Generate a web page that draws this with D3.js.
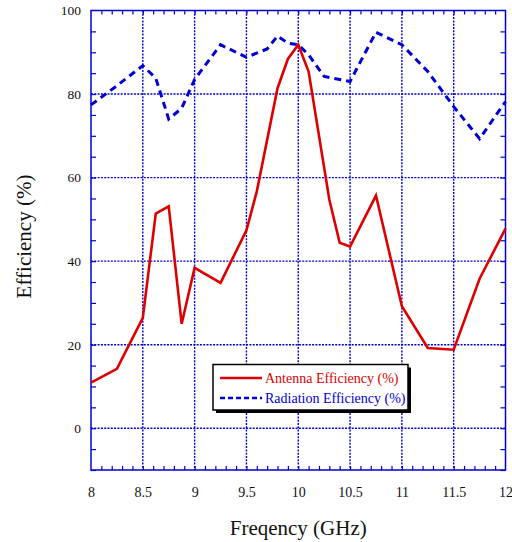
<!DOCTYPE html>
<html><head><meta charset="utf-8">
<script src="https://cdn.jsdelivr.net/npm/d3@7"></script>
<style>body{margin:0;background:#fff}svg{display:block}</style>
</head><body>
<script>
const antennaFreq = [8, 8.25, 8.5, 8.625, 8.75, 8.875, 9, 9.25, 9.5, 9.6, 9.8, 9.9, 10, 10.1, 10.3, 10.4, 10.5, 10.75, 11, 11.25, 11.5, 11.75, 12];
const antennaEff  = [10.9, 14.2, 26.4, 51.4, 53.1, 25, 38.4, 34.8, 47.4, 56.7, 81.4, 88.4, 91.8, 85.4, 54.7, 44.4, 43.5, 55.7, 29.2, 19.2, 18.8, 35.8, 47.8];
const radiationFreq = [8, 8.25, 8.5, 8.625, 8.75, 8.875, 9, 9.25, 9.5, 9.7, 9.8, 9.9, 10, 10.1, 10.25, 10.5, 10.75, 11, 11.25, 11.5, 11.75, 12];
const radiationEff  = [77.4, 82, 86.8, 83.8, 74, 76.6, 83.5, 91.8, 88.8, 90.8, 93.9, 92.2, 91.8, 89.4, 84.2, 83, 94.8, 91.8, 85.4, 77, 69.3, 78.2];
const xTicks = [8, 8.5, 9, 9.5, 10, 10.5, 11, 11.5, 12];
const yTicks = [0, 20, 40, 60, 80, 100];
const seriesNames = ["Antenna Efficiency (%)", "Radiation Efficiency (%)"];

const FONT = "'Times New Roman', 'Liberation Serif', 'DejaVu Serif', serif";
const W = 512, H = 542;
const L = 91, R = 505.5, T = 10.5, B = 470;
const blue = "#0000d0", red = "#dd0000";
const svg = d3.select("body").append("svg").attr("width", W).attr("height", H);
const x = d3.scaleLinear().domain([8, 12]).range([L, R]);
const y = d3.scaleLinear().domain([-10, 100]).range([B, T]);

// grid
const g = svg.append("g");
g.selectAll(".gx").data(xTicks.slice(1, -1)).join("line")
  .attr("x1", d => x(d)).attr("x2", d => x(d)).attr("y1", T).attr("y2", B)
  .attr("stroke", blue).attr("stroke-width", 1.4).attr("stroke-dasharray", "2,1.3");
g.selectAll(".gy").data(yTicks.slice(0, -1)).join("line")
  .attr("y1", d => y(d)).attr("y2", d => y(d)).attr("x1", L).attr("x2", R)
  .attr("stroke", blue).attr("stroke-width", 1.4).attr("stroke-dasharray", "2,1.3");

// minor/major ticks on all four sides
const xMinor = d3.range(81, 120).map(v => v / 10);
const yMinor = d3.range(-2, 20).map(v => v * 5);
const axB = d3.axisTop(x).tickValues(xMinor).tickSize(4).tickFormat("");
const axT = d3.axisBottom(x).tickValues(xMinor).tickSize(4).tickFormat("");
const axL = d3.axisRight(y).tickValues(yMinor).tickSize(5).tickFormat("");
const axR = d3.axisLeft(y).tickValues(yMinor).tickSize(5).tickFormat("");
[[axB, `translate(0,${B})`], [axT, `translate(0,${T})`], [axL, `translate(${L},0)`], [axR, `translate(${R},0)`]].forEach(([a, tr]) => {
  const gg = svg.append("g").attr("transform", tr).call(a);
  gg.select(".domain").remove();
  gg.selectAll("line").attr("stroke", blue).attr("stroke-width", 1.2);
});

// tick labels
const gx = svg.append("g").attr("transform", `translate(0,${B + 27})`)
  .call(d3.axisBottom(x).tickValues(xTicks).tickSize(0).tickPadding(0).tickFormat(d3.format("")));
gx.attr("font-family", null);
gx.select(".domain").remove();
gx.selectAll("text").attr("fill", "#111").attr("dy", "0").style("font-family", FONT).style("font-size", "14px");
const gy = svg.append("g").attr("transform", `translate(${L - 10},0)`)
  .call(d3.axisLeft(y).tickValues(yTicks).tickSize(0).tickPadding(0));
gy.attr("font-family", null);
gy.select(".domain").remove();
gy.selectAll("text").attr("fill", "#111").style("font-family", FONT).style("font-size", "13.5px");

// frame
svg.append("rect").attr("x", L).attr("y", T).attr("width", R - L).attr("height", B - T)
  .attr("fill", "none").attr("stroke", blue).attr("stroke-width", 1.5);

// lines
const lineGen = d3.line().x(d => x(d[0])).y(d => y(d[1]));
svg.append("path").datum(radiationFreq.map((f, i) => [f, radiationEff[i]]))
  .attr("d", lineGen).attr("fill", "none").attr("stroke", blue).attr("stroke-width", 3)
  .attr("stroke-dasharray", "7,5");
svg.append("path").datum(antennaFreq.map((f, i) => [f, antennaEff[i]]))
  .attr("d", lineGen).attr("fill", "none").attr("stroke", red).attr("stroke-width", 2.6);

// legend
const lx = 213, ly = 364.5, lw = 195, lh = 45.5;
svg.append("rect").attr("x", lx + 3).attr("y", ly + 3).attr("width", lw).attr("height", lh).attr("fill", "#000");
svg.append("rect").attr("x", lx).attr("y", ly).attr("width", lw).attr("height", lh)
  .attr("fill", "#fff").attr("stroke", "#000").attr("stroke-width", 1.5);
const legItems = [{name: seriesNames[0], color: red, dash: null, w: 2.6}, {name: seriesNames[1], color: blue, dash: "5,3", w: 2.4}];
legItems.forEach((it, i) => {
  const yy = ly + 13.5 + i * 20;
  svg.append("line").attr("x1", lx + 7).attr("x2", lx + 49).attr("y1", yy).attr("y2", yy)
    .attr("stroke", it.color).attr("stroke-width", it.w).attr("stroke-dasharray", it.dash);
  svg.append("text").attr("x", lx + 52).attr("y", yy + 4.8).style("font-family", FONT).style("font-size", "14px")
    .attr("fill", it.color).text(it.name);
});

// axis titles
svg.append("text").attr("x", (L + R) / 2).attr("y", 535).attr("text-anchor", "middle")
  .style("font-family", FONT).style("font-size", "21px").attr("fill", "#111").text("Freqency (GHz)");
svg.append("text").attr("transform", `translate(31,236.5) rotate(-90)`).attr("text-anchor", "middle")
  .style("font-family", FONT).style("font-size", "21px").attr("fill", "#111").text("Efficiency (%)");
</script>
</body></html>
